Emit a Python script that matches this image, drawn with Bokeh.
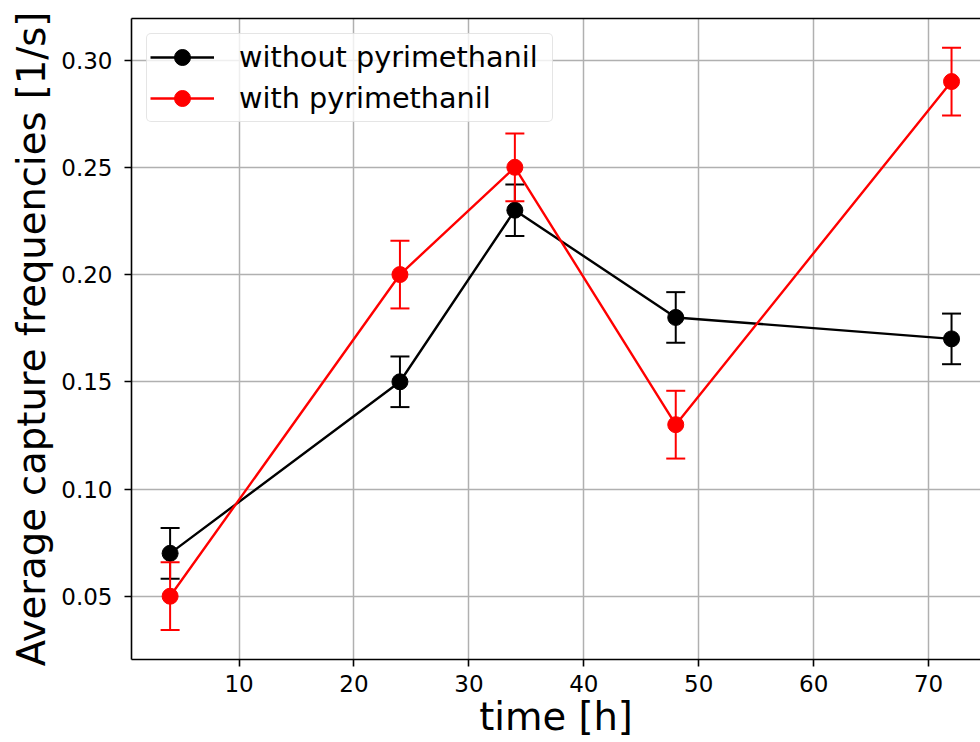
from bokeh.plotting import figure
from bokeh.models import (Range1d, FixedTicker, NumeralTickFormatter, LinearAxis,
                          Legend, LegendItem, ColumnDataSource)
from bokeh.embed import file_html
from bokeh.resources import INLINE

# ---- data ----
time_h = [4, 24, 34, 48, 72]
without_vals = [0.07, 0.15, 0.23, 0.18, 0.17]
without_err = [0.0118, 0.0118, 0.012, 0.0118, 0.0118]
with_vals = [0.05, 0.20, 0.25, 0.13, 0.29]
with_err = [0.0158, 0.0158, 0.0158, 0.0158, 0.0158]
x_ticks = [10, 20, 30, 40, 50, 60, 70]
y_ticks = [0.05, 0.10, 0.15, 0.20, 0.25, 0.30]
series_labels = ["without pyrimethanil", "with pyrimethanil"]

FONT = "DejaVu Sans"

p = figure(width=980, height=742, output_backend="svg", toolbar_location=None,
           x_range=Range1d(0.64, 74.52), y_range=Range1d(0.0205, 0.3194),
           min_border_left=131, min_border_right=0, min_border_top=18,
           min_border_bottom=83)
p.outline_line_color = None
p.background_fill_color = "white"

# grid
for g in (p.xgrid, p.ygrid):
    g.grid_line_color = "#b0b0b0"
    g.grid_line_width = 1.5

p.xaxis.ticker = FixedTicker(ticks=x_ticks)
p.yaxis.ticker = FixedTicker(ticks=y_ticks)
p.yaxis.formatter = NumeralTickFormatter(format="0.00")
p.xgrid.ticker = FixedTicker(ticks=x_ticks)
p.ygrid.ticker = FixedTicker(ticks=y_ticks)

for ax in (p.xaxis[0], p.yaxis[0]):
    ax.axis_line_color = "black"
    ax.axis_line_width = 1.6
    ax.major_tick_line_color = "black"
    ax.major_tick_line_width = 1.6
    ax.major_tick_out = 7
    ax.major_tick_in = 0
    ax.minor_tick_line_color = None
    ax.major_label_text_font = FONT
    ax.major_label_text_font_size = "23px"
    ax.major_label_text_color = "black"
    ax.axis_label_text_font = FONT
    ax.axis_label_text_font_size = "38.5px"
    ax.axis_label_text_font_style = "normal"
    ax.axis_label_text_color = "black"

p.xaxis.axis_label = "time [h]"
p.yaxis.axis_label = "Average capture frequencies [1/s]"
p.xaxis.major_label_standoff = 8
p.xaxis.axis_label_standoff = -1
p.yaxis.major_label_standoff = 12
p.yaxis.axis_label_standoff = 4

# top spine
top = LinearAxis(ticker=FixedTicker(ticks=[]), axis_line_color="black",
                 axis_line_width=1.6, major_tick_line_color=None,
                 minor_tick_line_color=None, major_label_text_font_size="0px",
                 major_label_standoff=0)
p.add_layout(top, "above")

items = []
for vals, errs, color, label in [(without_vals, without_err, "black", series_labels[0]),
                                 (with_vals, with_err, "red", series_labels[1])]:
    src = ColumnDataSource(dict(
        x=time_h, y=vals,
        lo=[v - e for v, e in zip(vals, errs)],
        hi=[v + e for v, e in zip(vals, errs)],
    ))
    seg = p.segment(x0="x", y0="lo", x1="x", y1="hi", source=src,
                    line_color=color, line_width=2)
    cap_lo = p.scatter(x="x", y="lo", source=src, marker="dash", size=19,
                       line_color=color, line_width=2)
    cap_hi = p.scatter(x="x", y="hi", source=src, marker="dash", size=19,
                       line_color=color, line_width=2)
    ln = p.line(x="x", y="y", source=src, line_color=color, line_width=2.4)
    pts = p.scatter(x="x", y="y", source=src, marker="circle", size=16,
                    fill_color=color, line_color=color)
    items.append(LegendItem(label=label, renderers=[ln, pts]))

legend = Legend(items=items, location="top_left", margin=15, padding=3,
                spacing=1, glyph_height=40, glyph_width=64, label_standoff=25,
                label_width=310,
                label_text_font=FONT, label_text_font_size="28.7px",
                label_text_color="black",
                border_line_color="#cccccc", border_line_width=1.5,
                background_fill_color="white", background_fill_alpha=0.8)
if "border_radius" in Legend.properties():
    legend.border_radius = 5
p.add_layout(legend, "center")

open("out.html", "w").write(file_html(p, INLINE))
